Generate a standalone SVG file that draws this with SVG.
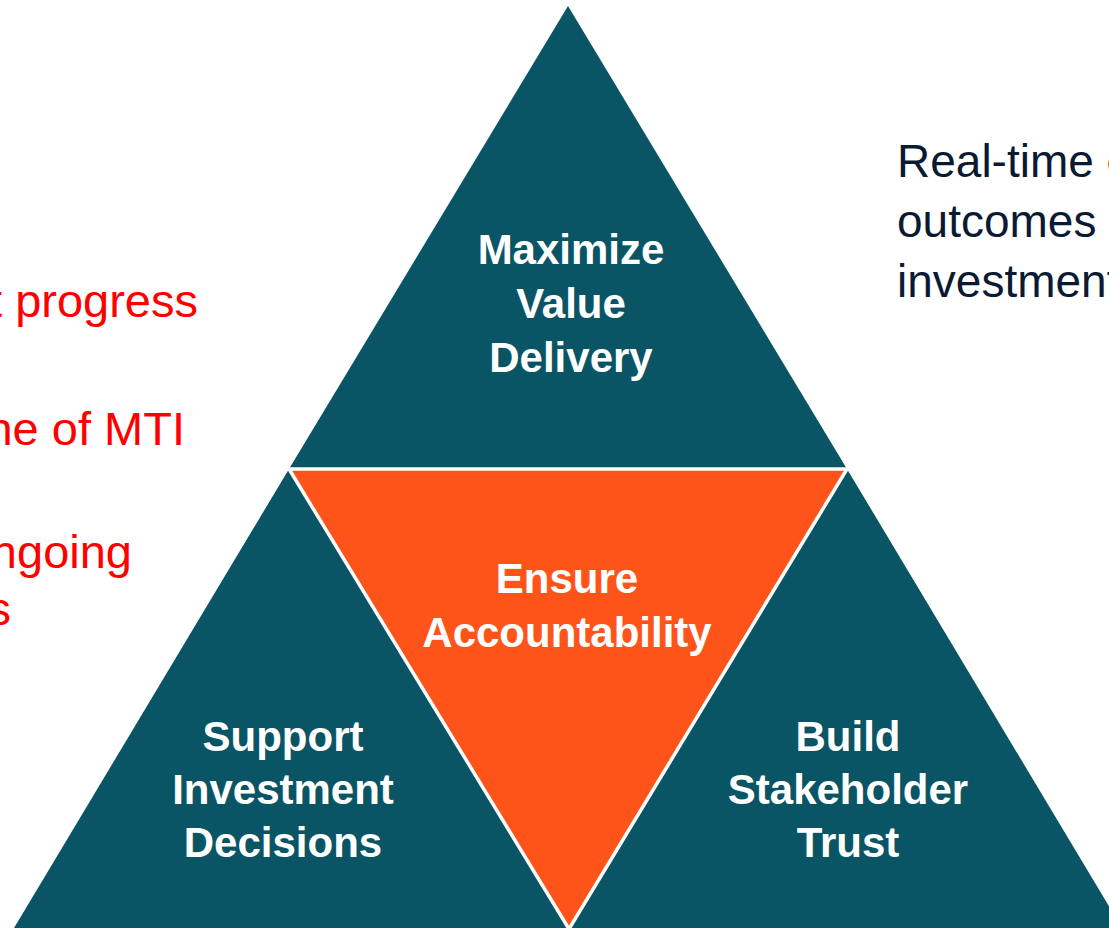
<svg xmlns="http://www.w3.org/2000/svg" width="1109" height="928" viewBox="0 0 1109 928">
  <style>
    .tri { fill: #0a5565; }
    .core { fill: #fe5419; stroke: #ffffff; stroke-width: 3.5; stroke-linejoin: miter; }
    .label { font-family: "Liberation Sans", Arial, sans-serif; font-weight: bold; font-size: 42px; fill: #ffffff; text-anchor: middle; }
    .note { font-family: "Liberation Sans", Arial, sans-serif; font-size: 47px; fill: #ff0000; text-anchor: end; }
    .side { font-family: "Liberation Sans", Arial, sans-serif; font-size: 46px; fill: #0b1a33; }
  </style>
  <rect width="1109" height="928" fill="#ffffff"/>

  <!-- notes on the left, running off the edge -->
  <g id="notes-left">
    <text class="note" x="198" y="317">t progress</text>
    <text class="note" x="185" y="445">ne of MTI</text>
    <text class="note" x="132" y="568">ngoing</text>
    <text class="note" x="11" y="625">s</text>
  </g>

  <!-- note on the right, running off the edge -->
  <g id="notes-right">
    <text class="side" x="897" y="177">Real-time e</text>
    <text class="side" x="897" y="237">outcomes</text>
    <text class="side" x="897" y="297">investment</text>
  </g>

  <!-- the pyramid: three outer triangles around an inverted centre -->
  <g id="node-maximize">
    <polygon class="tri" points="568,6 289,469 847,469"/>
    <text class="label" x="571" y="264">Maximize</text>
    <text class="label" x="571" y="318">Value</text>
    <text class="label" x="571" y="372">Delivery</text>
  </g>
  <g id="node-support">
    <polygon class="tri" points="289,469 14,928 568,928"/>
    <text class="label" x="283" y="751">Support</text>
    <text class="label" x="283" y="804">Investment</text>
    <text class="label" x="283" y="857">Decisions</text>
  </g>
  <g id="node-trust">
    <polygon class="tri" points="847,469 568,928 1122,928"/>
    <text class="label" x="848" y="751">Build</text>
    <text class="label" x="848" y="804">Stakeholder</text>
    <text class="label" x="848" y="857">Trust</text>
  </g>
  <g id="node-accountability">
    <polygon class="core" points="289,469 847,469 569,929"/>
    <text class="label" x="567" y="593">Ensure</text>
    <text class="label" x="567" y="647">Accountability</text>
  </g>

  <g id="connectors"/>
</svg>
